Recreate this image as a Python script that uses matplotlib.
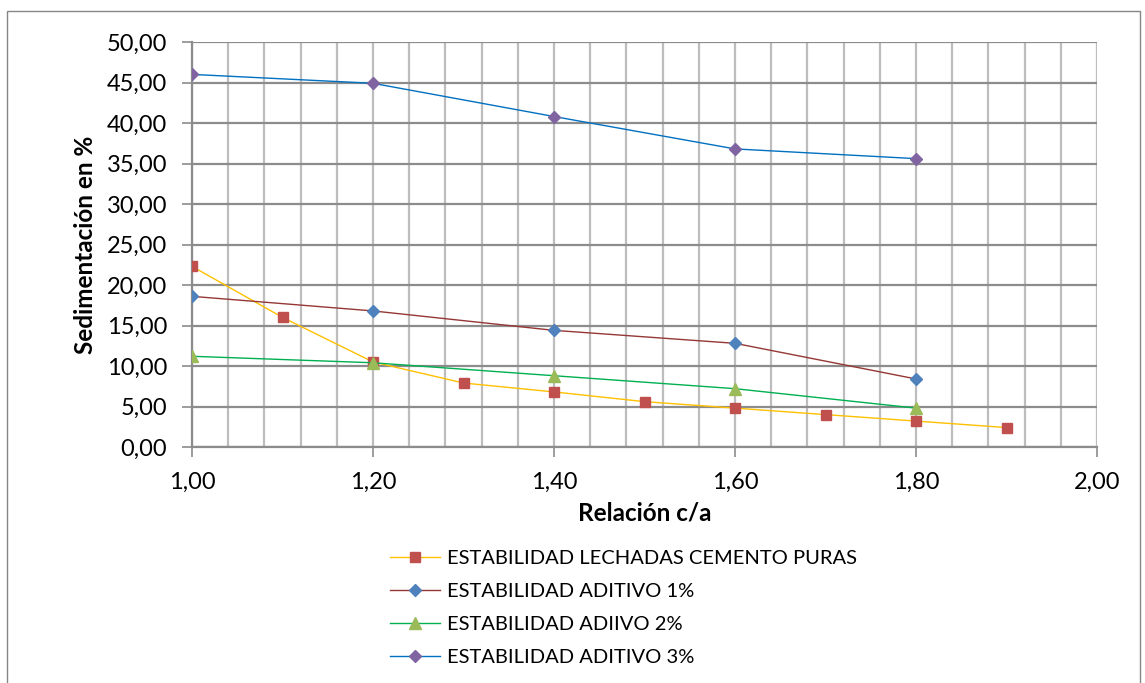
import matplotlib.pyplot as plt
from matplotlib.ticker import MultipleLocator, FuncFormatter
from matplotlib.patches import Rectangle

# Relación c/a y sedimentación (%) para cada serie
ca_puras = [1.0, 1.1, 1.2, 1.3, 1.4, 1.5, 1.6, 1.7, 1.8, 1.9]
sed_puras = [22.3, 16.0, 10.5, 7.9, 6.8, 5.6, 4.8, 4.0, 3.2, 2.4]

ca_aditivo = [1.0, 1.2, 1.4, 1.6, 1.8]
sed_aditivo_1 = [18.6, 16.8, 14.4, 12.8, 8.4]
sed_aditivo_2 = [11.2, 10.4, 8.8, 7.2, 4.8]
sed_aditivo_3 = [46.0, 44.9, 40.8, 36.8, 35.6]

labels = ["ESTABILIDAD LECHADAS CEMENTO PURAS",
          "ESTABILIDAD ADITIVO 1%",
          "ESTABILIDAD ADIIVO 2%",
          "ESTABILIDAD ADITIVO 3%"]

plt.rcParams['font.family'] = ['Lato', 'DejaVu Sans']

fig = plt.figure(figsize=(11.45, 6.83), dpi=100)
ax = fig.add_axes([192 / 1145, 1 - 447 / 683, 905 / 1145, 405 / 683])

# borde del área del gráfico
fig.patches.append(Rectangle((7 / 1145, -0.05), 1133 / 1145, 1.05 - 11 / 683,
                             transform=fig.transFigure, fill=False,
                             edgecolor='#868686', linewidth=1.0))

lw = 1.0
ax.plot(ca_puras, sed_puras, color='#FFC000', linewidth=lw, marker='s',
        markersize=6.5, markerfacecolor='#C0504D', markeredgecolor='#C0504D',
        label=labels[0], zorder=3)
ax.plot(ca_aditivo, sed_aditivo_1, color='#953735', linewidth=lw, marker='D',
        markersize=6, markerfacecolor='#4F81BD', markeredgecolor='#4F81BD',
        label=labels[1], zorder=3)
ax.plot(ca_aditivo, sed_aditivo_2, color='#00B050', linewidth=lw, marker='^',
        markersize=8, markerfacecolor='#9BBB59', markeredgecolor='#9BBB59',
        label=labels[2], zorder=3)
ax.plot(ca_aditivo, sed_aditivo_3, color='#0070C0', linewidth=lw, marker='D',
        markersize=6, markerfacecolor='#8064A2', markeredgecolor='#8064A2',
        label=labels[3], zorder=3)

ax.set_xlim(1.0, 2.0)
ax.set_ylim(0, 50)
ax.xaxis.set_major_locator(MultipleLocator(0.2))
ax.xaxis.set_minor_locator(MultipleLocator(0.04))
ax.yaxis.set_major_locator(MultipleLocator(5))

coma = FuncFormatter(lambda v, p: f"{v:.2f}".replace('.', ','))
ax.xaxis.set_major_formatter(coma)
ax.yaxis.set_major_formatter(coma)

ax.grid(True, axis='x', which='both', color='#BDBDBD', linewidth=1.6)
ax.grid(True, axis='y', which='major', color='#8C8C8C', linewidth=1.6)
ax.set_axisbelow(True)

for s in ['top', 'right']:
    ax.spines[s].set_visible(False)
for s in ['left', 'bottom']:
    ax.spines[s].set_color('#8C8C8C')
    ax.spines[s].set_linewidth(1.6)

ax.tick_params(axis='both', which='major', direction='out', length=7,
               width=1.2, color='#8C8C8C', labelsize=17, pad=11)
ax.tick_params(axis='x', which='minor', length=0)

ax.set_xlabel("Relación c/a", fontsize=17.5, fontweight='bold', labelpad=6)
ax.set_ylabel("Sedimentación en %", fontsize=17.5, fontweight='bold', labelpad=7)

fig.legend(loc='upper left', bbox_to_anchor=(382 / 1145, 1 - 542 / 683),
           frameon=False, fontsize=14.5, handlelength=2.5, handletextpad=0.35,
           labelspacing=0.78, borderaxespad=0)

fig.savefig("out.png", dpi=100)
